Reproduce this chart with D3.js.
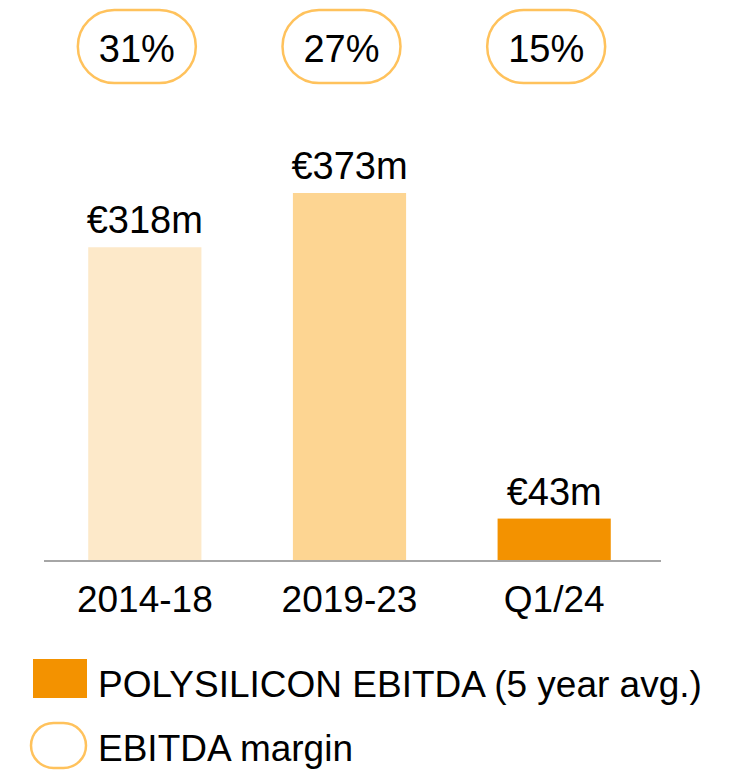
<!DOCTYPE html>
<html>
<head>
<meta charset="utf-8">
<script src="https://cdn.jsdelivr.net/npm/d3@7"></script>
<style>
  body { margin: 0; background: #fff; }
  text { font-family: "Liberation Sans", Arial, sans-serif; fill: #000; }
</style>
</head>
<body>
<svg id="chart" width="733" height="771"></svg>
<script>
// data
var categories = ["2014-18", "2019-23", "Q1/24"];
var ebitda = [318, 373, 43];
var valueLabels = ["€318m", "€373m", "€43m"];
var margins = ["31%", "27%", "15%"];
var barColors = ["#FDE9C9", "#FDD592", "#F39200"];

var svg = d3.select("#chart");
var baseY = 561;

// scales
var x = d3.scaleBand()
    .domain(categories)
    .range([43, 656])
    .paddingInner(0.447)
    .paddingOuter(0.221);

var y = d3.scaleLinear()
    .domain([0, 373])
    .range([baseY, 193]);

// bars
svg.append("g")
  .selectAll("rect")
  .data(ebitda)
  .enter()
  .append("rect")
    .attr("x", function(d, i) { return x(categories[i]); })
    .attr("y", function(d) { return y(d); })
    .attr("width", x.bandwidth())
    .attr("height", function(d) { return y(0) - y(d); })
    .style("fill", function(d, i) { return barColors[i]; });

// value labels
svg.append("g")
  .selectAll("text")
  .data(ebitda)
  .enter()
  .append("text")
    .attr("x", function(d, i) { return x(categories[i]) + x.bandwidth() / 2; })
    .attr("y", function(d) { return y(d) - 14; })
    .attr("text-anchor", "middle")
    .style("font-size", "38px")
    .text(function(d, i) { return valueLabels[i]; });

// axis
var xAxis = svg.append("g")
    .attr("transform", "translate(0," + baseY + ")")
    .call(d3.axisBottom(x).tickSize(0));
xAxis.select(".domain")
    .attr("d", "M44,0H661")
    .style("stroke", "#a6a6a6")
    .style("stroke-width", 2);
xAxis.selectAll("text")
    .attr("y", 51)
    .attr("dy", 0)
    .style("font-size", "37px")
    .style("font-family", "Liberation Sans, Arial, sans-serif")
    .style("fill", "#000");

// margin pills (sit slightly left of the bar centres)
var pills = svg.append("g")
  .selectAll("g")
  .data(margins)
  .enter()
  .append("g")
    .attr("transform", function(d, i) {
      return "translate(" + (x(categories[i]) + x.bandwidth() / 2 - 8) + ",46.5)";
    });
pills.append("rect")
    .attr("x", -59).attr("y", -36.5)
    .attr("width", 118).attr("height", 73)
    .attr("rx", 36.5).attr("ry", 36.5)
    .style("fill", "#fff")
    .style("stroke", "#FFC25C")
    .style("stroke-width", 2.5);
pills.append("text")
    .attr("text-anchor", "middle")
    .attr("y", 15)
    .style("font-size", "38px")
    .text(function(d) { return d; });

// legend
var legend = svg.append("g");
legend.append("rect")
    .attr("x", 33).attr("y", 659)
    .attr("width", 54).attr("height", 39)
    .style("fill", "#F39200");
legend.append("text")
    .attr("x", 98).attr("y", 697)
    .style("font-size", "37px")
    .text("POLYSILICON EBITDA (5 year avg.)");
legend.append("rect")
    .attr("x", 31).attr("y", 723)
    .attr("width", 55).attr("height", 45)
    .attr("rx", 22.5).attr("ry", 22.5)
    .style("fill", "#fff")
    .style("stroke", "#FFC25C")
    .style("stroke-width", 2.5);
legend.append("text")
    .attr("x", 98).attr("y", 761)
    .style("font-size", "37px")
    .text("EBITDA margin");
</script>
</body>
</html>
